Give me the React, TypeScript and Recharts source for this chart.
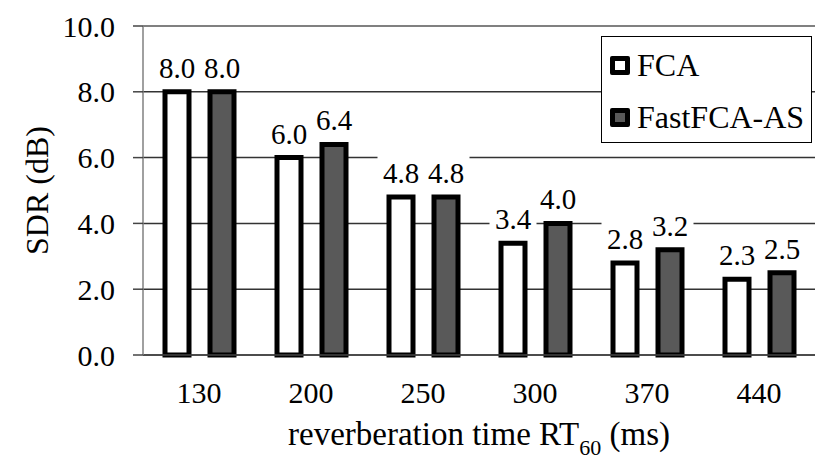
import React from 'react';
import { BarChart, Bar, XAxis, YAxis, CartesianGrid, Legend, ReferenceLine } from 'recharts';

const categories = ['130', '200', '250', '300', '370', '440'];
const fcaValues = [8.0, 6.0, 4.8, 3.4, 2.8, 2.3];
const fastFcaValues = [8.0, 6.4, 4.8, 4.0, 3.2, 2.5];
const yTicks = [0, 2, 4, 6, 8, 10];

const data = categories.map((c, i) => ({ rt: c, FCA: fcaValues[i], FastFCA: fastFcaValues[i] }));

const FONT = '"Liberation Serif", "Times New Roman", Times, serif';

const ValueLabel = (props: any) => {
  const { x, y, width, value } = props;
  const cx = Number(x) + Number(width) / 2;
  const base = Number(y) - 14;
  return (
    <g>
      <rect x={cx - 23.5} y={base - 29} width={47} height={37} fill="#fff" />
      <text x={cx} y={base} textAnchor="middle" fontFamily={FONT} fontSize={29} fill="#000">
        {Number(value).toFixed(1)}
      </text>
    </g>
  );
};

const XTitle = (props: any) => {
  const vb = props.viewBox || { x: 143, y: 355, width: 672, height: 113 };
  const cx = vb.x + vb.width / 2;
  const y = vb.y + 90;
  return (
    <text x={cx} y={y} textAnchor="middle" fontFamily={FONT} fontSize={33} fill="#000">
      reverberation time RT
      <tspan fontSize={22} dy={10}>60</tspan>
      <tspan dy={-10}>{' (ms)'}</tspan>
    </text>
  );
};

const YTitle = (props: any) => {
  const vb = props.viewBox || { x: 0, y: 26, width: 143, height: 329 };
  const cy = vb.y + vb.height / 2;
  const x = vb.x + 48;
  return (
    <text
      x={x}
      y={cy}
      transform={`rotate(-90, ${x}, ${cy})`}
      textAnchor="middle"
      fontFamily={FONT}
      fontSize={32}
      fill="#000"
    >
      SDR (dB)
    </text>
  );
};

const LegendBox = (props: any) => {
  const payload = props.payload || [];
  const rowCenters = [29, 81];
  return (
    <div
      style={{
        position: 'relative',
        width: 211,
        height: 107,
        border: '1px solid #000',
        background: '#fff',
        boxSizing: 'border-box',
        fontFamily: FONT,
        fontSize: 32,
        color: '#000',
      }}
    >
      {payload.map((entry: any, i: number) => (
        <React.Fragment key={i}>
          <div
            style={{
              position: 'absolute',
              left: 8,
              top: rowCenters[i] - 10.5,
              width: 20,
              height: 19,
              border: '5px solid #000',
              borderRadius: 2,
              background: entry.color,
              boxSizing: 'border-box',
            }}
          />
          <div
            style={{
              position: 'absolute',
              left: 35,
              top: rowCenters[i] - 19,
              height: 36,
              lineHeight: '36px',
              whiteSpace: 'nowrap',
            }}
          >
            {entry.value}
          </div>
        </React.Fragment>
      ))}
    </div>
  );
};

export default function App() {
  return (
    <div style={{ position: 'absolute', left: 0, top: 0, width: 830, height: 468, background: '#fff' }}>
      <BarChart
        width={830}
        height={468}
        data={data}
        margin={{ top: 26, right: 15, left: 0, bottom: 0 }}
        barSize={24}
        barGap={21}
      >
        <CartesianGrid vertical={false} stroke="#333" strokeWidth={1.5} />
        <ReferenceLine y={10} stroke="#8a8a8a" strokeWidth={1.5} />
        <XAxis
          dataKey="rt"
          height={113}
          tickLine={false}
          tickSize={0}
          tickMargin={27}
          axisLine={{ stroke: '#444', strokeWidth: 1.5 }}
          tick={{ fontFamily: FONT, fontSize: 30, fill: '#000' }}
          label={<XTitle />}
        />
        <YAxis
          width={143}
          domain={[0, 10]}
          ticks={yTicks}
          interval={0}
          tickFormatter={(v: number) => v.toFixed(1)}
          tickSize={10}
          tickMargin={18}
          axisLine={{ stroke: '#808080', strokeWidth: 1.5 }}
          tickLine={{ stroke: '#444', strokeWidth: 1.5 }}
          tick={{ fontFamily: FONT, fontSize: 30, fill: '#000' }}
          label={<YTitle />}
        />
        <Legend
          layout="vertical"
          align="center"
          verticalAlign="middle"
          content={<LegendBox />}
          wrapperStyle={{ left: 601, top: 36, width: 211, height: 107 }}
        />
        <Bar
          dataKey="FCA"
          name="FCA"
          fill="#ffffff"
          stroke="#000"
          strokeWidth={5}
          isAnimationActive={false}
          label={<ValueLabel />}
        />
        <Bar
          dataKey="FastFCA"
          name="FastFCA-AS"
          fill="#595959"
          stroke="#000"
          strokeWidth={5}
          isAnimationActive={false}
          label={<ValueLabel />}
        />
      </BarChart>
    </div>
  );
}
